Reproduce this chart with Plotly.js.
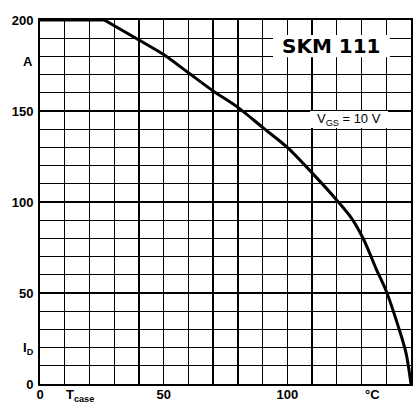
<!DOCTYPE html>
<html>
<head>
<meta charset="utf-8">
<script src="https://cdn.plot.ly/plotly-3.0.1.min.js"></script>
<style>html,body{margin:0;padding:0;background:#fff;}#chart{width:420px;height:403px;}</style>
</head>
<body>
<div id="chart"></div>
<script>
// Derating curve: drain current I_D (A) vs case temperature T_case (°C)
var tCase = [0, 26, 40, 50, 60, 70, 80, 90, 100, 110, 120, 126, 131, 136, 140, 145, 148, 150];
var iDrain = [200, 200, 189, 181, 171, 161, 152, 141, 130, 116, 101, 91, 79, 63, 51, 31, 17, 0];
var xTickVals = [0, 50, 100, 150];
var xTickText = ['0', '50', '100', '150'];
var yTickVals = [0, 50, 100, 150, 200];
var yTickText = ['0', '50', '100', '150', '200'];
var deviceLabel = 'SKM 111';
var conditionLabel = 'V<sub>GS</sub> = 10 V';

var boldFont = {family: 'Liberation Sans, Arial, sans-serif', size: 13, color: '#000', weight: 'bold'};

// flat (current-limited) part, then the smooth derating part
var traceFlat = {
  x: tCase.slice(0, 2), y: iDrain.slice(0, 2), type: 'scatter', mode: 'lines',
  line: {color: '#000', width: 3}, hoverinfo: 'skip', cliponaxis: false
};
var traceCurve = {
  x: tCase.slice(1), y: iDrain.slice(1), type: 'scatter', mode: 'lines',
  line: {color: '#000', width: 3, shape: 'spline', smoothing: 0.8}, hoverinfo: 'skip', cliponaxis: false
};

var gridMinor = {dtick: 10, showgrid: true, gridcolor: '#000', gridwidth: 1.3, ticks: ''};

var layout = {
  width: 420, height: 403,
  margin: {l: 40, r: 9, t: 20, b: 19},
  paper_bgcolor: '#fff', plot_bgcolor: '#fff',
  showlegend: false,
  xaxis: {
    range: [0, 150], showgrid: true, gridcolor: '#000', gridwidth: 1.3,
    zeroline: false, showline: true, linecolor: '#000', linewidth: 2, mirror: true,
    tickmode: 'array', tickvals: xTickVals, ticktext: xTickText,
    ticks: '', tickfont: boldFont, ticklabelstandoff: -3, fixedrange: true,
    minor: gridMinor
  },
  yaxis: {
    range: [0, 200], showgrid: true, gridcolor: '#000', gridwidth: 1.3,
    zeroline: false, showline: true, linecolor: '#000', linewidth: 2, mirror: true,
    tickmode: 'array', tickvals: yTickVals, ticktext: yTickText,
    ticks: '', tickfont: boldFont, ticklabelstandoff: 2, fixedrange: true,
    minor: gridMinor
  },
  shapes: [
    {type: 'rect', xref: 'paper', yref: 'paper', x0: 0.628, x1: 0.943, y0: 0.898, y1: 0.959,
     fillcolor: '#fff', line: {width: 0}, layer: 'above'},
    {type: 'rect', xref: 'paper', yref: 'paper', x0: 0.728, x1: 0.938, y0: 0.703, y1: 0.75,
     fillcolor: '#fff', line: {width: 0}, layer: 'above'}
  ],
  annotations: [
    {text: deviceLabel, xref: 'paper', yref: 'paper', x: 0.785, y: 0.928, xanchor: 'center', yanchor: 'middle', showarrow: false,
     font: {family: 'DejaVu Sans, sans-serif', size: 20, color: '#000', weight: 'bold'}},
    {text: conditionLabel, xref: 'paper', yref: 'paper', x: 0.833, y: 0.727, xanchor: 'center', yanchor: 'middle', showarrow: false,
     font: {family: 'Liberation Sans, Arial, sans-serif', size: 13, color: '#000'}},
    {text: 'A', xref: 'paper', yref: 'paper', x: -0.032, y: 0.887, xanchor: 'center', yanchor: 'middle', showarrow: false, font: boldFont},
    {text: 'I<sub>D</sub>', xref: 'paper', yref: 'paper', x: -0.032, y: 0.097, xanchor: 'center', yanchor: 'middle', showarrow: false, font: boldFont},
    {text: 'T<sub>case</sub>', xref: 'paper', yref: 'paper', x: 0.108, y: -0.032, xanchor: 'center', yanchor: 'middle', showarrow: false, font: boldFont},
    {text: '°C', xref: 'paper', yref: 'paper', x: 0.895, y: -0.030, xanchor: 'center', yanchor: 'middle', showarrow: false, font: boldFont}
  ]
};

Plotly.newPlot('chart', [traceFlat, traceCurve], layout, {displayModeBar: false, staticPlot: true});
</script>
</body>
</html>
